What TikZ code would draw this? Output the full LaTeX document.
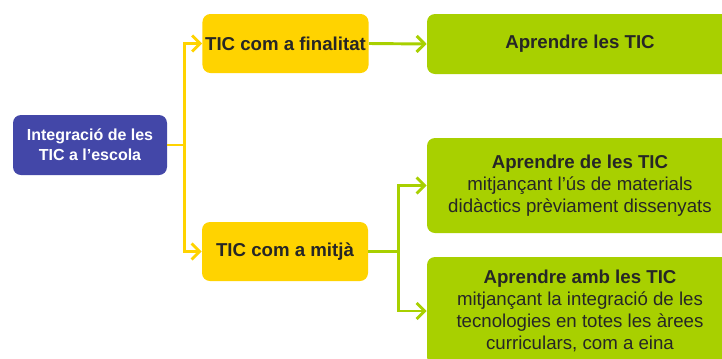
\documentclass[tikz,border=0pt]{standalone}
\usepackage{fontspec}
\setmainfont{Liberation Sans}
\usetikzlibrary{arrows.meta}
\definecolor{rootblue}{HTML}{4347A8}
\definecolor{ticyellow}{HTML}{FFD300}
\definecolor{ticgreen}{HTML}{A8D000}
\definecolor{ticdark}{HTML}{262626}
\begin{document}
\begin{tikzpicture}[x=0.75pt, y=-0.75pt,
  box/.style={rectangle, rounded corners=6pt, inner sep=2pt, align=center, text=ticdark},
  rootbox/.style={box, fill=rootblue, text=white, font=\fontsize{12}{15}\selectfont\bfseries},
  ybox/.style={box, fill=ticyellow, minimum height=44.25pt, font=\fontsize{14}{16.5}\selectfont\bfseries},
  gbox/.style={box, fill=ticgreen, minimum width=229.5pt, font=\fontsize{14}{16.5}\selectfont},
  ylink/.style={ticyellow, line width=2.2pt, -{Straight Barb[length=6pt,width=12pt]}},
  glink/.style={ticgreen, line width=2.2pt, -{Straight Barb[length=6pt,width=12pt]}}]
  \useasboundingbox (0,0) rectangle (722,358);

  % Root and the two ways of using ICT
  \node[rootbox, minimum width=115.5pt, minimum height=45pt] (root) at (90,145)
    {Integració de les\\TIC a l’escola};
  \node[ybox, minimum width=123.75pt] (fin) at (285.5,43.5) {TIC com a finalitat};
  \node[ybox, minimum width=124.5pt] (mitja) at (285,251.5) {TIC com a mitjà};

  % Green outcomes (run past the right edge)
  \node[gbox, minimum height=45pt] (learn) at (580,44) {\textbf{Aprendre les TIC}};
  \node[gbox, minimum height=71.25pt] (de) at (580,185.5)
    {\textbf{Aprendre de les TIC}\\mitjançant l’ús de materials\\didàctics prèviament dissenyats};
  \node[gbox, minimum height=81pt] (amb) at (580,311)
    {\textbf{Aprendre amb les TIC}\\mitjançant la integració de les\\tecnologies en totes les àrees\\curriculars, com a eina};

  % Connectors
  \draw[ylink] (root.east) -- ++(17,0) |- (fin.west);
  \draw[ylink] (root.east) -- ++(17,0) |- (mitja.west);
  \draw[glink] (fin.east) -- (learn.west);
  \draw[glink] (mitja.east) -- ++(30,0) |- (de.west);
  \draw[glink] (mitja.east) -- ++(30,0) |- (amb.west);
\end{tikzpicture}
\end{document}
